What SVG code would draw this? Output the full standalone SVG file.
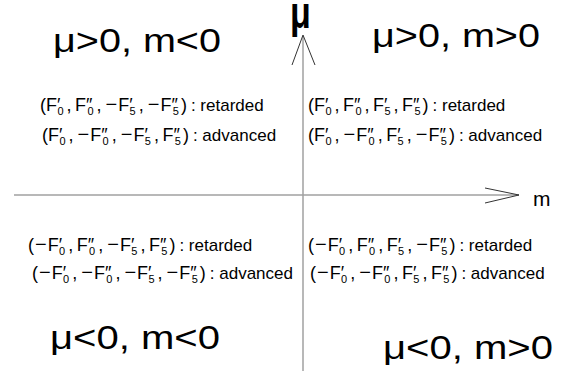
<svg xmlns="http://www.w3.org/2000/svg" width="576" height="371" viewBox="0 0 576 371">
<style>
.ttl{font-family:"Liberation Sans",Arial,sans-serif;font-size:34px;fill:#000}
.lab{font-family:"Liberation Sans",Arial,sans-serif;font-size:18px;fill:#000}
.w{font-size:17px}
.s{font-size:11px}
.mn{font-size:20px}
.axis{stroke:#a0a0a0;stroke-width:1.5;fill:none}
.head{stroke:#333;stroke-width:1;fill:none}
</style>
<rect width="576" height="371" fill="#fff"/>
<g id="connectors">
<line class="axis" x1="14" y1="195" x2="519" y2="195"/>
<polyline class="head" points="485,188 519,195 485,203"/>
<line class="axis" x1="303" y1="371" x2="303" y2="36"/>
<polyline class="head" points="292,65 303,35 315,65"/>
</g>
<g id="axis-mu"><text transform="translate(290,28) scale(1,1.3)" font-family="Liberation Sans,Arial,sans-serif" font-size="34" font-weight="bold">μ</text></g>
<g id="axis-m"><text x="533" y="206" font-family="Liberation Sans,Arial,sans-serif" font-size="21">m</text></g>
<g id="q-tl-title"><text class="ttl" x="53" y="52" textLength="168" lengthAdjust="spacingAndGlyphs">μ&gt;0, m&lt;0</text></g>
<g id="q-tr-title"><text class="ttl" x="372" y="47" textLength="168" lengthAdjust="spacingAndGlyphs">μ&gt;0, m&gt;0</text></g>
<g id="q-bl-title"><text class="ttl" x="50" y="349" textLength="170" lengthAdjust="spacingAndGlyphs">μ&lt;0, m&lt;0</text></g>
<g id="q-br-title"><text class="ttl" x="383" y="359" textLength="170" lengthAdjust="spacingAndGlyphs">μ&lt;0, m&gt;0</text></g>
<g id="q-tl-labels">
<text class="lab" x="40" y="111">(F′<tspan class="s" dx="-3" dy="4">0</tspan><tspan dy="-4" dx="3">,</tspan><tspan dx="3.5">F″</tspan><tspan class="s" dx="-5" dy="4">0</tspan><tspan dy="-4" dx="3">,</tspan><tspan class="mn" dx="4">−</tspan><tspan dx="1">F′</tspan><tspan class="s" dx="-3" dy="4">5</tspan><tspan dy="-4" dx="3">,</tspan><tspan class="mn" dx="4">−</tspan><tspan dx="1">F″</tspan><tspan class="s" dx="-5" dy="4">5</tspan><tspan dy="-4" dx="2">)</tspan><tspan class="w" dx="4">: retarded</tspan></text>
<text class="lab" x="42" y="141">(F′<tspan class="s" dx="-3" dy="4">0</tspan><tspan dy="-4" dx="3">,</tspan><tspan class="mn" dx="4">−</tspan><tspan dx="1">F″</tspan><tspan class="s" dx="-5" dy="4">0</tspan><tspan dy="-4" dx="3">,</tspan><tspan class="mn" dx="4">−</tspan><tspan dx="1">F′</tspan><tspan class="s" dx="-3" dy="4">5</tspan><tspan dy="-4" dx="3">,</tspan><tspan dx="3.5">F″</tspan><tspan class="s" dx="-5" dy="4">5</tspan><tspan dy="-4" dx="2">)</tspan><tspan class="w" dx="4">: advanced</tspan></text>
</g>
<g id="q-tr-labels">
<text class="lab" x="308" y="111">(F′<tspan class="s" dx="-3" dy="4">0</tspan><tspan dy="-4" dx="3">,</tspan><tspan dx="3.5">F″</tspan><tspan class="s" dx="-5" dy="4">0</tspan><tspan dy="-4" dx="3">,</tspan><tspan dx="3.5">F′</tspan><tspan class="s" dx="-3" dy="4">5</tspan><tspan dy="-4" dx="3">,</tspan><tspan dx="3.5">F″</tspan><tspan class="s" dx="-5" dy="4">5</tspan><tspan dy="-4" dx="2">)</tspan><tspan class="w" dx="4">: retarded</tspan></text>
<text class="lab" x="308" y="141">(F′<tspan class="s" dx="-3" dy="4">0</tspan><tspan dy="-4" dx="3">,</tspan><tspan class="mn" dx="4">−</tspan><tspan dx="1">F″</tspan><tspan class="s" dx="-5" dy="4">0</tspan><tspan dy="-4" dx="3">,</tspan><tspan dx="3.5">F′</tspan><tspan class="s" dx="-3" dy="4">5</tspan><tspan dy="-4" dx="3">,</tspan><tspan class="mn" dx="4">−</tspan><tspan dx="1">F″</tspan><tspan class="s" dx="-5" dy="4">5</tspan><tspan dy="-4" dx="2">)</tspan><tspan class="w" dx="4">: advanced</tspan></text>
</g>
<g id="q-bl-labels">
<text class="lab" x="28" y="251">(<tspan class="mn" dx="1">−</tspan><tspan dx="1">F′</tspan><tspan class="s" dx="-3" dy="4">0</tspan><tspan dy="-4" dx="3">,</tspan><tspan dx="3.5">F″</tspan><tspan class="s" dx="-5" dy="4">0</tspan><tspan dy="-4" dx="3">,</tspan><tspan class="mn" dx="4">−</tspan><tspan dx="1">F′</tspan><tspan class="s" dx="-3" dy="4">5</tspan><tspan dy="-4" dx="3">,</tspan><tspan dx="3.5">F″</tspan><tspan class="s" dx="-5" dy="4">5</tspan><tspan dy="-4" dx="2">)</tspan><tspan class="w" dx="4">: retarded</tspan></text>
<text class="lab" x="32" y="279">(<tspan class="mn" dx="1">−</tspan><tspan dx="1">F′</tspan><tspan class="s" dx="-3" dy="4">0</tspan><tspan dy="-4" dx="3">,</tspan><tspan class="mn" dx="4">−</tspan><tspan dx="1">F″</tspan><tspan class="s" dx="-5" dy="4">0</tspan><tspan dy="-4" dx="3">,</tspan><tspan class="mn" dx="4">−</tspan><tspan dx="1">F′</tspan><tspan class="s" dx="-3" dy="4">5</tspan><tspan dy="-4" dx="3">,</tspan><tspan class="mn" dx="4">−</tspan><tspan dx="1">F″</tspan><tspan class="s" dx="-5" dy="4">5</tspan><tspan dy="-4" dx="2">)</tspan><tspan class="w" dx="4">: advanced</tspan></text>
</g>
<g id="q-br-labels">
<text class="lab" x="308" y="251">(<tspan class="mn" dx="1">−</tspan><tspan dx="1">F′</tspan><tspan class="s" dx="-3" dy="4">0</tspan><tspan dy="-4" dx="3">,</tspan><tspan dx="3.5">F″</tspan><tspan class="s" dx="-5" dy="4">0</tspan><tspan dy="-4" dx="3">,</tspan><tspan dx="3.5">F′</tspan><tspan class="s" dx="-3" dy="4">5</tspan><tspan dy="-4" dx="3">,</tspan><tspan class="mn" dx="4">−</tspan><tspan dx="1">F″</tspan><tspan class="s" dx="-5" dy="4">5</tspan><tspan dy="-4" dx="2">)</tspan><tspan class="w" dx="4">: retarded</tspan></text>
<text class="lab" x="310" y="279">(<tspan class="mn" dx="1">−</tspan><tspan dx="1">F′</tspan><tspan class="s" dx="-3" dy="4">0</tspan><tspan dy="-4" dx="3">,</tspan><tspan class="mn" dx="4">−</tspan><tspan dx="1">F″</tspan><tspan class="s" dx="-5" dy="4">0</tspan><tspan dy="-4" dx="3">,</tspan><tspan dx="3.5">F′</tspan><tspan class="s" dx="-3" dy="4">5</tspan><tspan dy="-4" dx="3">,</tspan><tspan dx="3.5">F″</tspan><tspan class="s" dx="-5" dy="4">5</tspan><tspan dy="-4" dx="2">)</tspan><tspan class="w" dx="4">: advanced</tspan></text>
</g>
</svg>
